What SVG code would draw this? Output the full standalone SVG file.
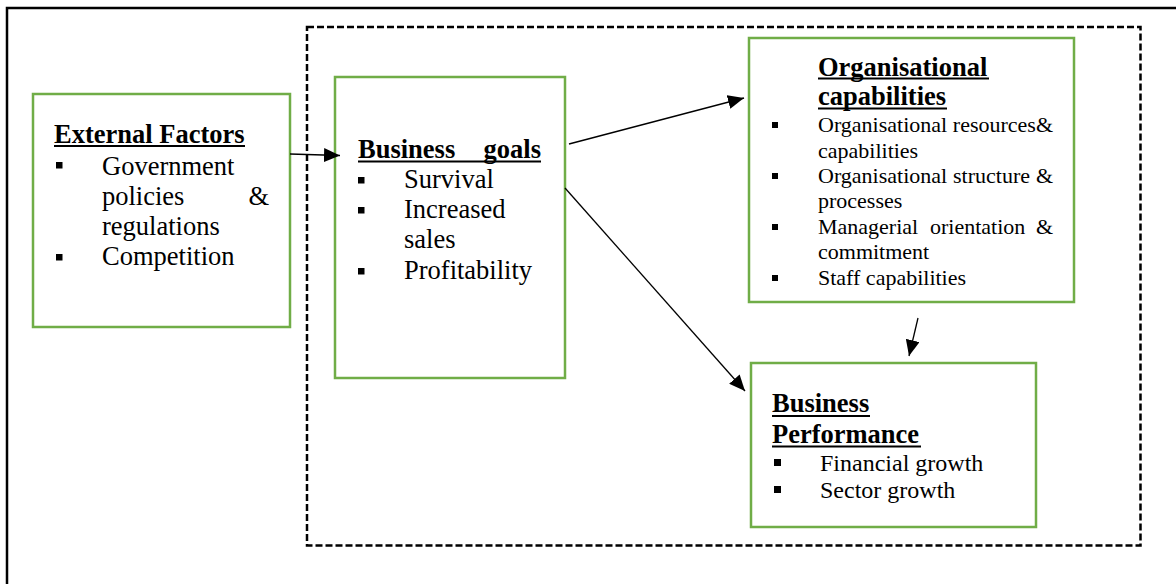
<svg xmlns="http://www.w3.org/2000/svg" width="1176" height="584" viewBox="0 0 1176 584">
  <style>
    .hd { font-weight: bold; font-size: 26.5px; }
    .lg { font-size: 26.5px; }
    .md { font-size: 24px; }
    .sm { font-size: 22px; }
    .box { fill: #fff; stroke: #70AD47; stroke-width: 2.5; }
    .ul { stroke: #000; stroke-width: 2; }
    .bul { fill: #000; }
    .conn { stroke: #000; stroke-width: 1.3; fill: none; marker-end: url(#arrow); }
  </style>
  <defs>
    <marker id="arrow" markerUnits="userSpaceOnUse" markerWidth="17" markerHeight="14" refX="16" refY="7" orient="auto">
      <path d="M0,0 L16,7 L0,14 Z" fill="#000"/>
    </marker>
  </defs>

  <rect width="1176" height="584" fill="#fff"/>

  <!-- page frame (top and left edges only) -->
  <path d="M7,584 V8 H1176" fill="none" stroke="#000" stroke-width="2.5"/>

  <!-- dashed enclosure around the business-side blocks -->
  <rect id="enclosure" x="307" y="27" width="833.5" height="518.5" fill="none" stroke="#000" stroke-width="2.5" stroke-dasharray="7 3"/>

  <g font-family="'Liberation Serif', 'DejaVu Serif', serif" fill="#000">
  <g id="external-factors">
    <rect class="box" x="33" y="94" width="257" height="233"/>
    <text class="hd" x="54" y="143">External Factors</text>
    <line class="ul" x1="54" y1="146" x2="245" y2="146"/>
    <rect class="bul" x="56" y="162" width="6.5" height="6.5"/>
    <text class="lg" x="102" y="175">Government</text>
    <text class="lg" x="102" y="205">policies</text>
    <text class="lg" x="269" y="205" text-anchor="end">&amp;</text>
    <text class="lg" x="102" y="235">regulations</text>
    <rect class="bul" x="56" y="254" width="6.5" height="6.5"/>
    <text class="lg" x="102" y="265">Competition</text>
  </g>

  <g id="business-goals">
    <rect class="box" x="335" y="77" width="230" height="301"/>
    <text class="hd" x="358" y="158">Business</text>
    <text class="hd" x="541" y="158" text-anchor="end">goals</text>
    <line class="ul" x1="358" y1="161.5" x2="541" y2="161.5"/>
    <rect class="bul" x="358" y="177" width="6.5" height="6.5"/>
    <text class="lg" x="404" y="188">Survival</text>
    <rect class="bul" x="358" y="207" width="6.5" height="6.5"/>
    <text class="lg" x="404" y="218">Increased</text>
    <text class="lg" x="404" y="248">sales</text>
    <rect class="bul" x="358" y="268" width="6.5" height="6.5"/>
    <text class="lg" x="404" y="279">Profitability</text>
  </g>

  <g id="organisational-capabilities">
    <rect class="box" x="749" y="38" width="325" height="264"/>
    <text class="hd" x="818" y="76">Organisational</text>
    <line class="ul" x1="818" y1="78.5" x2="989" y2="78.5"/>
    <text class="hd" x="818" y="105">capabilities</text>
    <line class="ul" x1="818" y1="108.5" x2="947" y2="108.5"/>
    <rect class="bul" x="772" y="122" width="6" height="6"/>
    <text class="sm" x="818" y="132">Organisational</text>
    <text class="sm" x="1053" y="132" text-anchor="end">resources&amp;</text>
    <text class="sm" x="818" y="157.5">capabilities</text>
    <rect class="bul" x="772" y="173" width="6" height="6"/>
    <text class="sm" x="818" y="183">Organisational</text>
    <text class="sm" x="953" y="183">structure</text>
    <text class="sm" x="1053" y="183" text-anchor="end">&amp;</text>
    <text class="sm" x="818" y="208">processes</text>
    <rect class="bul" x="772" y="224" width="6" height="6"/>
    <text class="sm" x="818" y="234">Managerial</text>
    <text class="sm" x="930" y="234">orientation</text>
    <text class="sm" x="1053" y="234" text-anchor="end">&amp;</text>
    <text class="sm" x="818" y="259">commitment</text>
    <rect class="bul" x="772" y="275" width="6" height="6"/>
    <text class="sm" x="818" y="285">Staff capabilities</text>
  </g>

  <g id="business-performance">
    <rect class="box" x="751" y="363" width="285" height="164"/>
    <text class="hd" x="772" y="412">Business</text>
    <line class="ul" x1="772" y1="416" x2="870" y2="416"/>
    <text class="hd" x="772" y="443">Performance</text>
    <line class="ul" x1="772" y1="446.5" x2="921" y2="446.5"/>
    <rect class="bul" x="774" y="459" width="7" height="7"/>
    <text class="md" x="820" y="471">Financial growth</text>
    <rect class="bul" x="774" y="486" width="7" height="7"/>
    <text class="md" x="820" y="498">Sector growth</text>
  </g>
  </g>

  <g id="connectors">
    <line class="conn" x1="290" y1="154" x2="340" y2="155.5"/>
    <line class="conn" x1="569" y1="144" x2="744" y2="98"/>
    <line class="conn" x1="565" y1="188" x2="745" y2="391"/>
    <line class="conn" x1="918" y1="318" x2="909" y2="356"/>
  </g>
</svg>
